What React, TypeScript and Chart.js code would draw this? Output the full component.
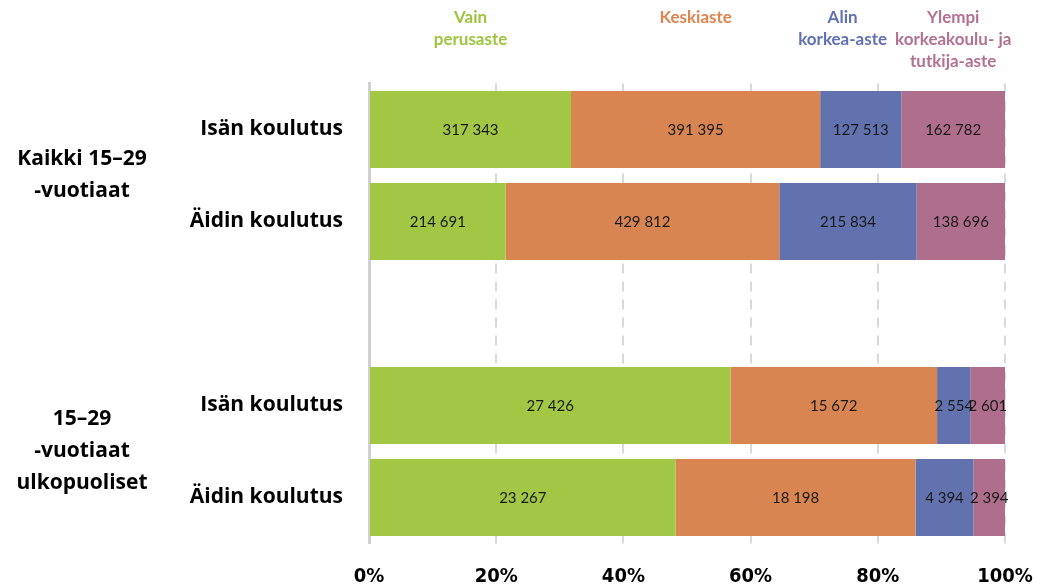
import React, { useEffect, useRef } from 'react';
import { Chart, registerables } from 'chart.js';

Chart.register(...registerables);

const categories = ['Isän koulutus', 'Äidin koulutus', '', 'Isän koulutus', 'Äidin koulutus'];
const seriesNames = [['Vain', 'perusaste'], ['Keskiaste'], ['Alin', 'korkea-aste'], ['Ylempi', 'korkeakoulu- ja', 'tutkija-aste']];
const vainPerusaste = [317343, 214691, null, 27426, 23267];
const keskiaste = [391395, 429812, null, 15672, 18198];
const alinKorkeaAste = [127513, 215834, null, 2554, 4394];
const ylempiKorkeakoulu = [162782, 138696, null, 2601, 2394];
const groupLabels = [['Kaikki 15–29', '-vuotiaat'], ['15–29', '-vuotiaat', 'ulkopuoliset']];
const groupRows = [[0, 1], [3, 4]];
const xTickValues = [0, 20, 40, 60, 80, 100];

const seriesColors = ['#a2c745', '#d98552', '#6272af', '#b06e8d'];
const legendColors = ['#9dc43e', '#e0844f', '#5f70b4', '#b37091'];

const FONT = 'Lato, "Open Sans", sans-serif';
const BOLD_FONT = '"Open Sans", Lato, sans-serif';

const fmt = (v: number) => String(v).replace(/\B(?=(\d{3})+(?!\d))/g, ' ');

export default function App() {
  const ref = useRef<HTMLCanvasElement | null>(null);

  useEffect(() => {
    const canvas = ref.current;
    if (!canvas) return;
    const raw = [vainPerusaste, keskiaste, alinKorkeaAste, ylempiKorkeakoulu];
    const totals = categories.map((_, i) =>
      raw.reduce((s, arr) => s + ((arr[i] as number | null) ?? 0), 0)
    );
    const datasets = raw.map((arr, k) => ({
      label: seriesNames[k].join(' '),
      data: arr.map((v, i) => (v == null ? null : ((v as number) / totals[i]) * 100)),
      rawValues: arr,
      backgroundColor: seriesColors[k],
      borderWidth: 0,
      categoryPercentage: 1,
      barPercentage: 0.837,
    }));

    const dataLabels = {
      id: 'dataLabels',
      afterDatasetsDraw(chart: any) {
        const ctx = chart.ctx;
        ctx.save();
        ctx.font = '15px ' + FONT;
        ctx.fillStyle = '#1a1a1a';
        ctx.textAlign = 'center';
        ctx.textBaseline = 'middle';
        chart.data.datasets.forEach((ds: any, di: number) => {
          const meta = chart.getDatasetMeta(di);
          meta.data.forEach((el: any, i: number) => {
            const v = ds.rawValues[i];
            if (v == null) return;
            const cx = (el.x + el.base) / 2;
            ctx.fillText(fmt(v), cx, el.y + 1);
          });
        });
        ctx.restore();
      },
    };

    const topLegend = {
      id: 'topLegend',
      afterDraw(chart: any) {
        const ctx = chart.ctx;
        ctx.save();
        ctx.font = 'bold 17px ' + FONT;
        ctx.textAlign = 'center';
        ctx.textBaseline = 'middle';
        const n = seriesNames.length;
        const centers: number[] = [];
        const widths: number[] = [];
        for (let k = 0; k < n; k++) {
          const el = chart.getDatasetMeta(k).data[0];
          centers.push((el.x + el.base) / 2);
          widths.push(Math.max(...seriesNames[k].map((t) => ctx.measureText(t).width)));
        }
        const gap = 8;
        for (let k = n - 2; k >= 0; k--) {
          const maxRight = centers[k + 1] - widths[k + 1] / 2 - gap;
          if (centers[k] + widths[k] / 2 > maxRight) centers[k] = maxRight - widths[k] / 2;
        }
        for (let k = 0; k < n; k++) {
          ctx.fillStyle = legendColors[k];
          seriesNames[k].forEach((t, li) => ctx.fillText(t, centers[k], 18 + li * 22));
        }
        ctx.restore();
      },
    };

    const groupLabelPlugin = {
      id: 'groupLabels',
      afterDraw(chart: any) {
        const ctx = chart.ctx;
        const y = chart.scales.y;
        ctx.save();
        ctx.font = 'bold 21px ' + BOLD_FONT;
        ctx.fillStyle = '#000';
        ctx.textAlign = 'center';
        ctx.textBaseline = 'middle';
        const lh = 32;
        groupLabels.forEach((lines, g) => {
          const rows = groupRows[g];
          const mid = rows.reduce((s, r) => s + y.getPixelForValue(r), 0) / rows.length;
          const start = mid - ((lines.length - 1) * lh) / 2;
          lines.forEach((t, li) => ctx.fillText(t, 82, start + li * lh));
        });
        ctx.restore();
      },
    };

    const chart = new Chart(canvas, {
      type: 'bar',
      data: { labels: categories, datasets: datasets as any },
      options: {
        indexAxis: 'y',
        responsive: false,
        animation: false,
        devicePixelRatio: 1,
        layout: { padding: { left: 0, top: 83.5, right: 42, bottom: 0 } },
        plugins: { legend: { display: false }, tooltip: { enabled: false } },
        scales: {
          x: {
            stacked: true,
            min: 0,
            max: 100,
            afterFit: (s: any) => {
              s.height = 44.5;
              s.paddingLeft = 0;
              s.paddingRight = 0;
            },
            afterBuildTicks: (s: any) => {
              s.ticks = xTickValues.map((v) => ({ value: v }));
            },
            ticks: {
              callback: (v: any) => v + '%',
              color: '#000',
              padding: 21,
              maxRotation: 0,
              font: { family: '"DejaVu Sans Condensed", "DejaVu Sans", sans-serif', weight: 'bold', size: 20 },
            },
            grid: {
              color: (c: any) => (c.tick && c.tick.value === 0 ? 'rgba(0,0,0,0)' : '#d9d9d9'),
              lineWidth: 2,
              drawTicks: false,
            },
            border: { display: false, dash: [10, 8] },
          },
          y: {
            stacked: true,
            afterFit: (s: any) => {
              s.width = 369;
            },
            ticks: {
              color: '#000',
              padding: 26,
              font: { family: BOLD_FONT, weight: 'bold', size: 21 },
            },
            grid: { display: false, drawTicks: false },
            border: { display: true, color: '#d0d0d0', width: 3 },
          },
        },
      } as any,
      plugins: [dataLabels, topLegend, groupLabelPlugin],
    });
    return () => chart.destroy();
  }, []);

  return (
    <div style={{ position: 'absolute', left: 0, top: 0, width: 1047, height: 588, background: '#fff' }}>
      <canvas ref={ref} width={1047} height={588} style={{ display: 'block' }} />
    </div>
  );
}
